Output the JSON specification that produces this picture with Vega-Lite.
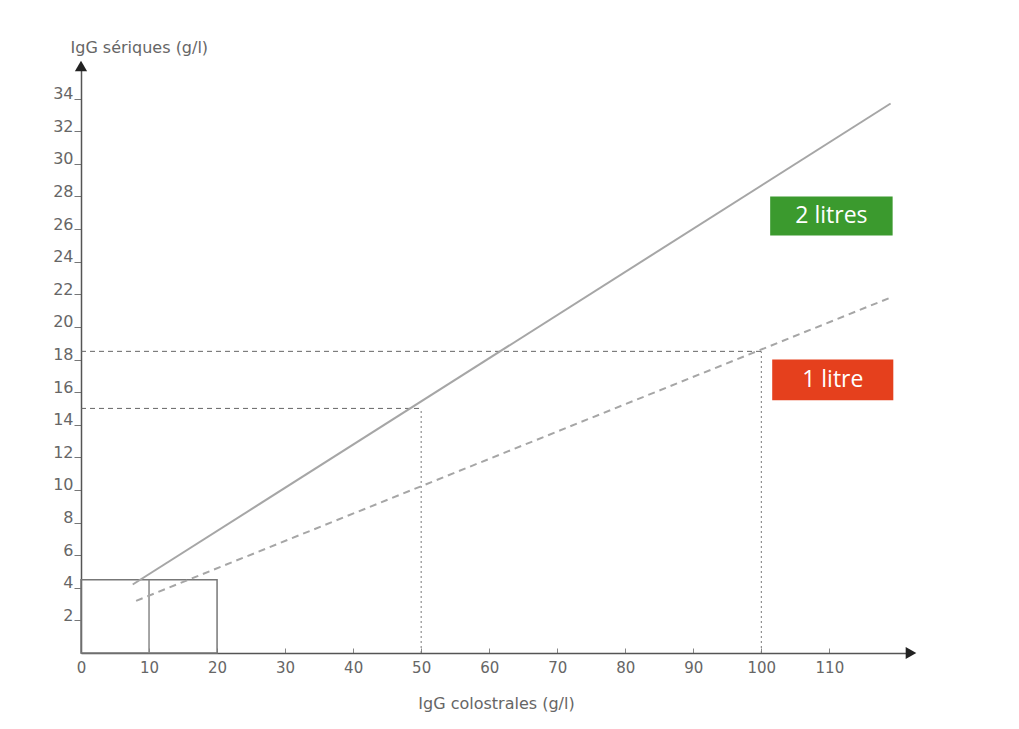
{
  "$schema": "https://vega.github.io/schema/vega-lite/v6.json",
  "autosize": {"type": "none"},
  "width": 830,
  "height": 587,
  "padding": {"left": 81, "top": 66, "right": 108, "bottom": 76},
  "background": "white",
  "config": {
    "view": {"stroke": null},
    "font": "DejaVu Sans"
  },
  "datasets": {
    "curves": [
      {"volume": "2 litres", "colostrum": 7.6, "serum": 4.2},
      {"volume": "2 litres", "colostrum": 119, "serum": 33.7},
      {"volume": "1 litre", "colostrum": 8.1, "serum": 3.2},
      {"volume": "1 litre", "colostrum": 119, "serum": 21.8}
    ],
    "readH": [
      {"from": 0, "to": 50, "serum": 15},
      {"from": 0, "to": 100, "serum": 18.5}
    ],
    "readV": [
      {"colostrum": 50, "low": 0, "high": 15},
      {"colostrum": 100, "low": 0, "high": 18.5}
    ],
    "box": [
      {"x1": 0, "x2": 20, "y1": 0, "y2": 4.5}
    ],
    "boxMid": [
      {"colostrum": 10, "low": 0, "high": 4.5}
    ],
    "labels": [
      {"volume": "2 litres", "x1": 101.3, "x2": 119.3, "y1": 25.6, "y2": 28.0, "xm": 110.3, "ym": 26.8},
      {"volume": "1 litre", "x1": 101.6, "x2": 119.4, "y1": 15.5, "y2": 18.0, "xm": 110.5, "ym": 16.75}
    ],
    "arrows": [
      {"dir": "up", "colostrum": 0, "serum": 36},
      {"dir": "right", "colostrum": 122, "serum": 0}
    ]
  },
  "layer": [
    {
      "data": {"name": "box"},
      "mark": {"type": "rect", "fill": null, "stroke": "#777777", "strokeWidth": 1.5},
      "encoding": {
        "x": {
          "field": "x1", "type": "quantitative",
          "scale": {"domain": [0, 122], "nice": false, "zero": false},
          "axis": {
            "values": [0, 10, 20, 30, 40, 50, 60, 70, 80, 90, 100, 110],
            "tickCount": 30,
            "title": "IgG colostrales (g/l)",
            "titleFont": "DejaVu Sans",
            "titleFontSize": 16,
            "titleFontWeight": "normal",
            "titleColor": "#666666",
            "titlePadding": 20,
            "titleX": 415,
            "labelFont": "DejaVu Sans",
            "labelFontSize": 15,
            "labelColor": "#666666",
            "labelPadding": 12,
            "labelFlush": false,
            "labelOverlap": false,
            "domainColor": "#555555",
            "domainWidth": 1.5,
            "tickColor": "#888888",
            "tickSize": -5,
            "grid": false
          }
        },
        "x2": {"field": "x2"},
        "y": {
          "field": "y1", "type": "quantitative",
          "scale": {"domain": [0, 36], "nice": false, "zero": false},
          "axis": {
            "values": [2, 4, 6, 8, 10, 12, 14, 16, 18, 20, 22, 24, 26, 28, 30, 32, 34],
            "tickCount": 40,
            "title": "IgG sériques (g/l)",
            "titleAngle": 0,
            "titleAlign": "left",
            "titleBaseline": "middle",
            "titleX": -11,
            "titleY": -19,
            "titleFont": "DejaVu Sans",
            "titleFontSize": 16,
            "titleFontWeight": "normal",
            "titleColor": "#666666",
            "labelFont": "DejaVu Sans",
            "labelFontSize": 16,
            "labelColor": "#666666",
            "labelBaseline": "alphabetic",
            "labelPadding": 1,
            "labelOverlap": false,
            "domainColor": "#555555",
            "domainWidth": 1.5,
            "tickColor": "#777777",
            "tickSize": 7,
            "grid": false
          }
        },
        "y2": {"field": "y2"}
      }
    },
    {
      "data": {"name": "boxMid"},
      "mark": {"type": "rule", "stroke": "#888888", "strokeWidth": 1.5},
      "encoding": {
        "x": {"field": "colostrum", "type": "quantitative"},
        "y": {"field": "low", "type": "quantitative"},
        "y2": {"field": "high"}
      }
    },
    {
      "data": {"name": "readH"},
      "mark": {"type": "rule", "stroke": "#666666", "strokeWidth": 1, "strokeDash": [5, 4]},
      "encoding": {
        "x": {"field": "from", "type": "quantitative"},
        "x2": {"field": "to"},
        "y": {"field": "serum", "type": "quantitative"}
      }
    },
    {
      "data": {"name": "readV"},
      "mark": {"type": "rule", "stroke": "#777777", "strokeWidth": 1, "strokeDash": [2, 3]},
      "encoding": {
        "x": {"field": "colostrum", "type": "quantitative"},
        "y": {"field": "low", "type": "quantitative"},
        "y2": {"field": "high"}
      }
    },
    {
      "data": {"name": "curves"},
      "transform": [{"filter": "datum.volume === '2 litres'"}],
      "mark": {"type": "line", "stroke": "#a6a6a6", "strokeWidth": 2},
      "encoding": {
        "x": {"field": "colostrum", "type": "quantitative"},
        "y": {"field": "serum", "type": "quantitative"}
      }
    },
    {
      "data": {"name": "curves"},
      "transform": [{"filter": "datum.volume === '1 litre'"}],
      "mark": {"type": "line", "stroke": "#a6a6a6", "strokeWidth": 2, "strokeDash": [7, 5]},
      "encoding": {
        "x": {"field": "colostrum", "type": "quantitative"},
        "y": {"field": "serum", "type": "quantitative"}
      }
    },
    {
      "data": {"name": "labels"},
      "mark": {"type": "rect"},
      "encoding": {
        "x": {"field": "x1", "type": "quantitative"},
        "x2": {"field": "x2"},
        "y": {"field": "y1", "type": "quantitative"},
        "y2": {"field": "y2"},
        "color": {
          "field": "volume", "type": "nominal",
          "scale": {"domain": ["2 litres", "1 litre"], "range": ["#3b9a2e", "#e5401d"]},
          "legend": null
        }
      }
    },
    {
      "data": {"name": "labels"},
      "mark": {"type": "text", "color": "white", "font": "Open Sans", "fontSize": 23, "align": "center", "baseline": "middle"},
      "encoding": {
        "x": {"field": "xm", "type": "quantitative"},
        "y": {"field": "ym", "type": "quantitative"},
        "text": {"field": "volume"}
      }
    },
    {
      "data": {"name": "arrows"},
      "mark": {"type": "point", "filled": true, "color": "#222222", "size": 150, "opacity": 1},
      "encoding": {
        "x": {"field": "colostrum", "type": "quantitative"},
        "y": {"field": "serum", "type": "quantitative"},
        "shape": {
          "field": "dir", "type": "nominal",
          "scale": {"domain": ["up", "right"], "range": ["triangle-up", "triangle-right"]},
          "legend": null
        }
      }
    }
  ]
}
